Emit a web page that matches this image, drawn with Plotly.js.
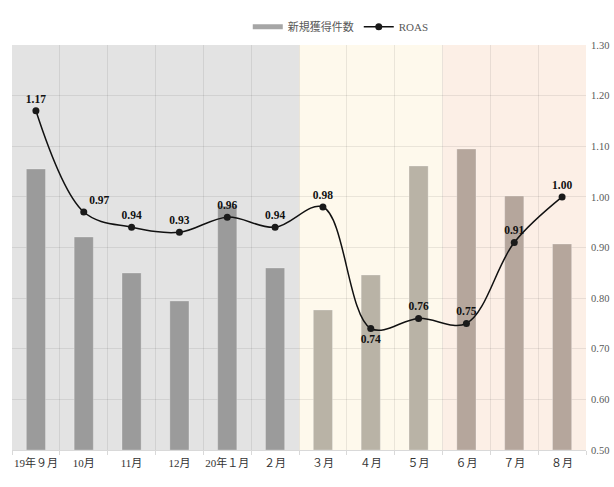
<!DOCTYPE html>
<html>
<head>
<meta charset="utf-8">
<script src="https://cdn.plot.ly/plotly-3.0.1.min.js"></script>
<style>
  html, body { margin: 0; padding: 0; background: #fff; }
  #chart { width: 614px; height: 487px; }
</style>
</head>
<body>
<div id="chart"></div>
<script>
// 月ラベル
var months = ['19年９月', '10月', '11月', '12月', '20年１月', '２月', '３月', '４月', '５月', '６月', '７月', '８月'];
// 新規獲得件数 (左軸は非表示のため目盛りから推定)
var newCount = [562, 426, 354, 298, 488, 364, 280, 350, 568, 602, 508, 412];
// ROAS
var roas = [1.17, 0.97, 0.94, 0.93, 0.96, 0.94, 0.98, 0.74, 0.76, 0.75, 0.91, 1.00];
var roasPos = ['top center', 'top right', 'top center', 'top center', 'top center', 'top center',
  'top center', 'bottom center', 'top center', 'top center', 'top center', 'top center'];
var barColors = ['#9b9b9b', '#9b9b9b', '#9b9b9b', '#9b9b9b', '#9b9b9b', '#9b9b9b',
  '#b9b3a6', '#b9b3a6', '#b9b3a6', '#b5a69c', '#b5a69c', '#b5a69c'];

var serif = '"Liberation Serif", "DejaVu Serif", "Noto Sans CJK JP", serif';

var bars = {
  type: 'bar',
  name: '新規獲得件数',
  x: months,
  y: newCount,
  width: 0.4,
  marker: { color: barColors, line: { color: 'rgba(255,255,255,0.25)', width: 1 } },
  yaxis: 'y',
  showlegend: false,
  hoverinfo: 'skip'
};

// 凡例用 (棒の凡例を横長の帯で表示)
var barLegend = {
  type: 'scatter',
  mode: 'lines',
  name: '新規獲得件数',
  x: [null],
  y: [null],
  line: { color: '#a6a6a6', width: 5 },
  hoverinfo: 'skip'
};

var line = {
  type: 'scatter',
  mode: 'lines+markers+text',
  name: 'ROAS',
  x: months,
  y: roas,
  yaxis: 'y2',
  line: { color: '#111', width: 1.5, shape: 'spline', smoothing: 1 },
  marker: { color: '#1a1a1a', size: 7 },
  text: roas.map(function (v) { return '<b>' + v.toFixed(2) + '</b>'; }),
  textposition: roasPos,
  textfont: { family: serif, size: 11.5, color: '#111' },
  cliponaxis: false
};

var layout = {
  width: 614,
  height: 487,
  margin: { l: 12, r: 28, t: 45, b: 37, pad: 0 },
  paper_bgcolor: '#fff',
  plot_bgcolor: 'rgba(0,0,0,0)',
  font: { family: serif, size: 11, color: '#595959' },
  showlegend: true,
  legend: {
    orientation: 'h',
    xref: 'container', yref: 'container',
    x: 0.555, xanchor: 'center',
    y: 0.945, yanchor: 'middle',
    itemwidth: 30,
    font: { family: serif, size: 11, color: '#595959' },
    traceorder: 'normal'
  },
  xaxis: {
    type: 'category',
    range: [-0.5, 11.5],
    tickson: 'boundaries',
    tickangle: 0,
    showgrid: true,
    gridcolor: 'rgba(0,0,0,0.08)',
    showline: true,
    linecolor: '#d9d9d9',
    ticks: 'outside',
    ticklen: 4,
    tickcolor: '#d9d9d9',
    ticklabelstandoff: 3,
    tickfont: { family: serif, size: 11, color: '#333' },
    fixedrange: true
  },
  yaxis: {
    range: [0, 810],
    visible: false,
    showgrid: false,
    fixedrange: true
  },
  yaxis2: {
    overlaying: 'y',
    side: 'right',
    range: [0.5, 1.3],
    dtick: 0.1,
    tickformat: '.2f',
    showgrid: true,
    gridcolor: 'rgba(0,0,0,0.08)',
    zeroline: false,
    ticks: '',
    ticklabelstandoff: 4,
    tickfont: { family: serif, size: 10.5, color: '#595959' },
    fixedrange: true
  },
  shapes: [
    { type: 'rect', layer: 'below', xref: 'x', yref: 'paper', x0: -0.5, x1: 5.5, y0: 0, y1: 1,
      fillcolor: '#e3e3e3', line: { width: 0 } },
    { type: 'rect', layer: 'below', xref: 'x', yref: 'paper', x0: 5.5, x1: 8.5, y0: 0, y1: 1,
      fillcolor: '#fef9ec', line: { width: 0 } },
    { type: 'rect', layer: 'below', xref: 'x', yref: 'paper', x0: 8.5, x1: 11.5, y0: 0, y1: 1,
      fillcolor: '#fcefe6', line: { width: 0 } }
  ]
};

Plotly.newPlot('chart', [bars, barLegend, line], layout, { displayModeBar: false, staticPlot: true });
</script>
</body>
</html>
